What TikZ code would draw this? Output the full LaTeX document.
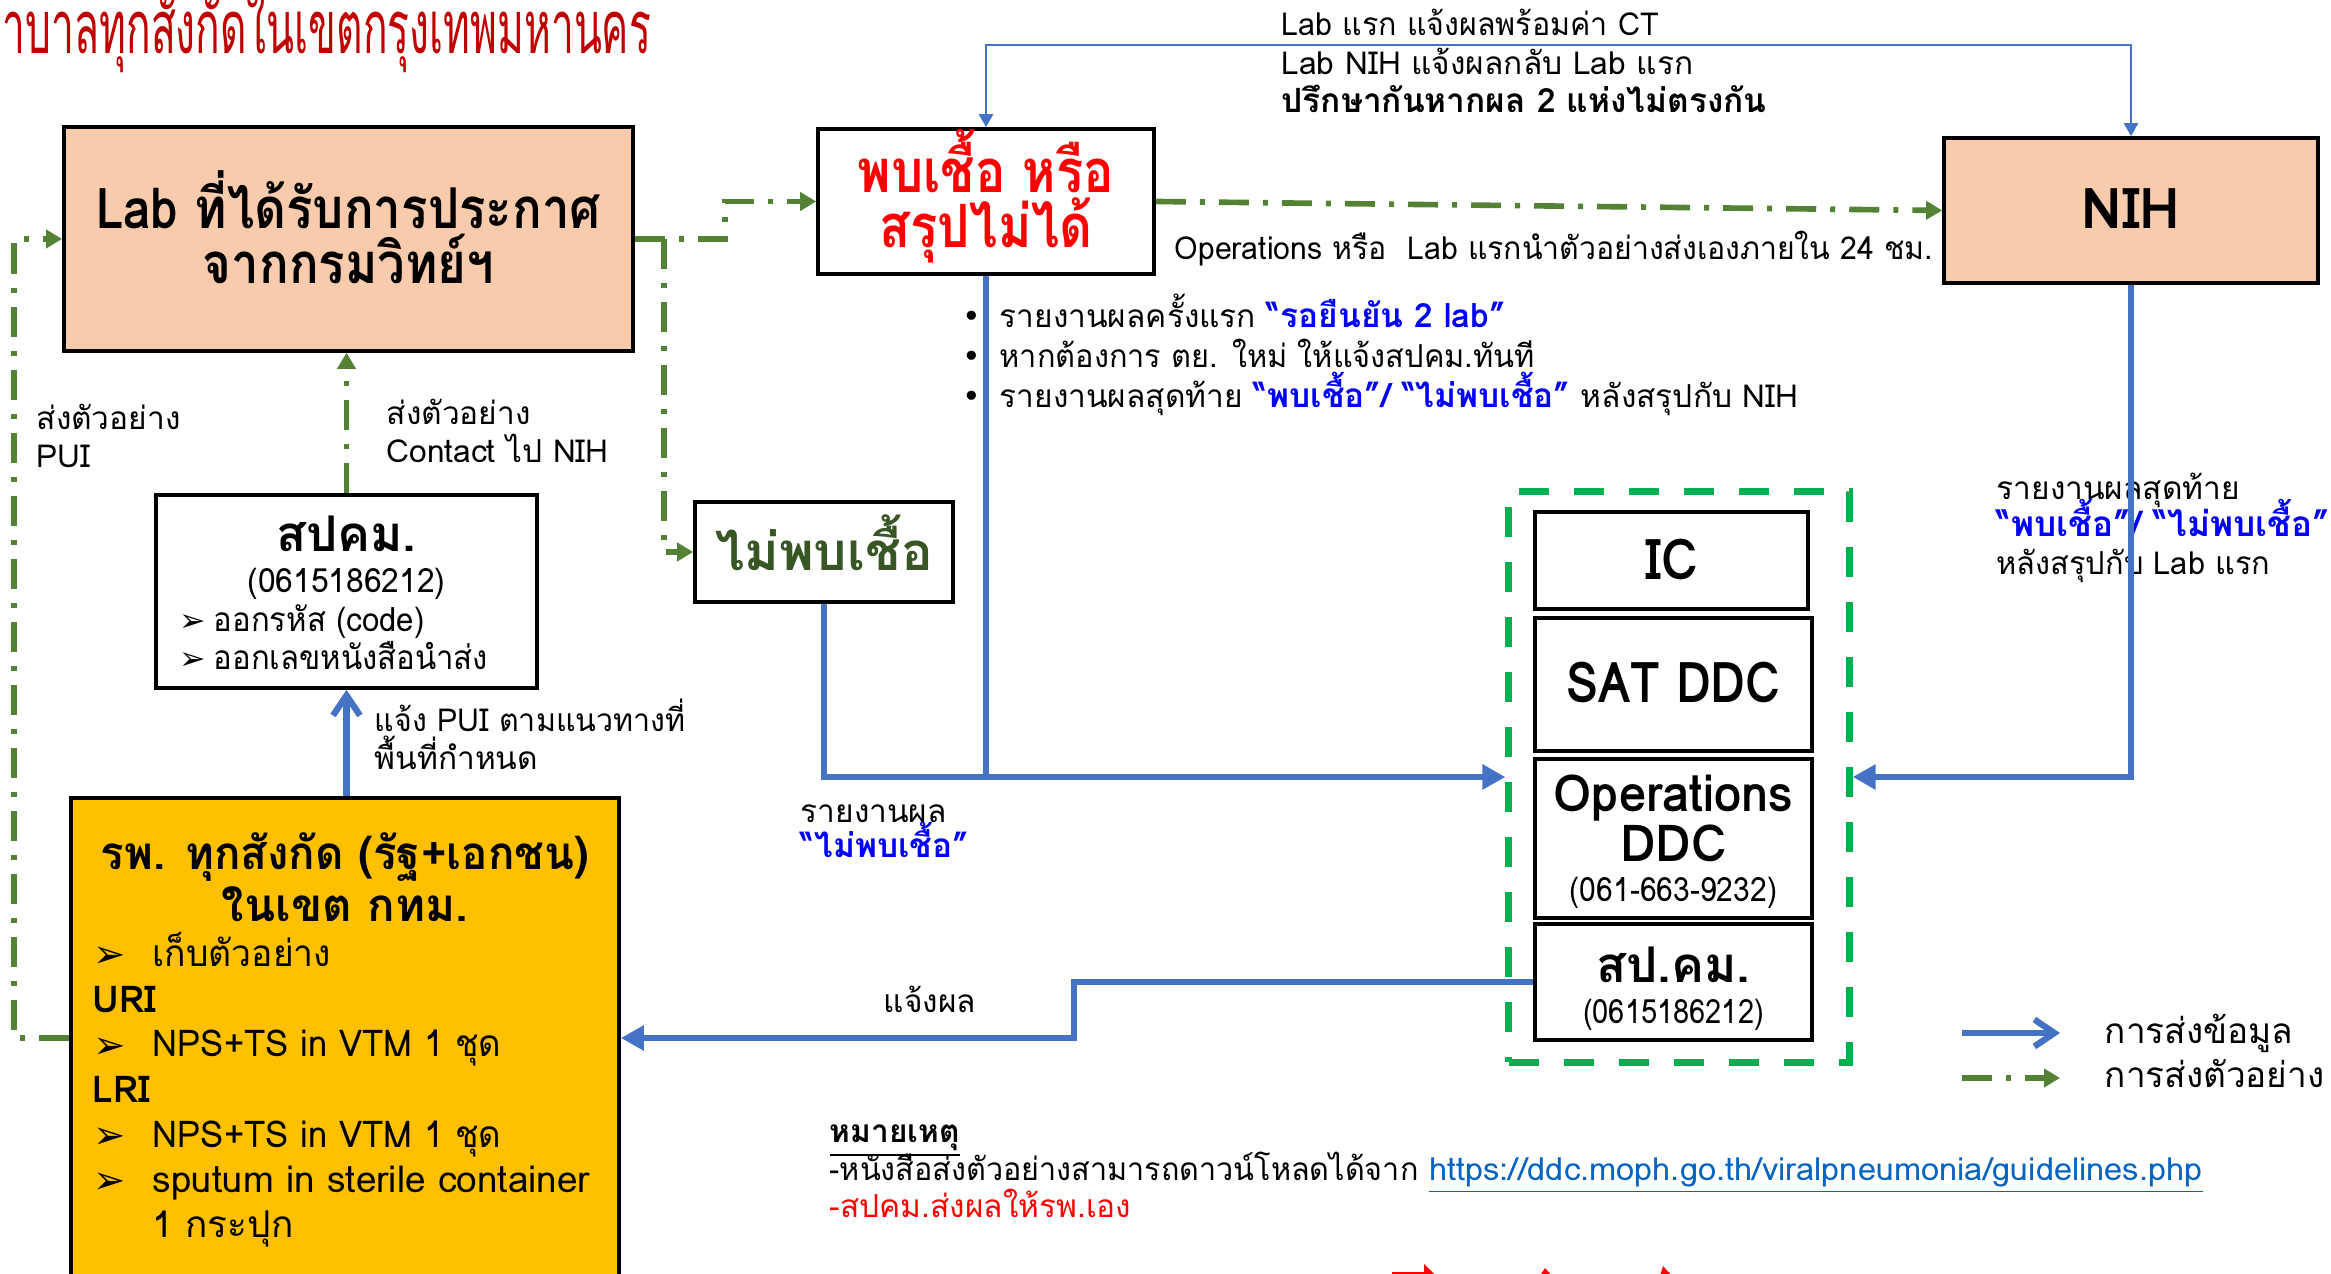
\documentclass[tikz,border=0pt]{standalone}
\usepackage{fontspec}
\usepackage{graphicx}
\setmainfont{Loma}[Script=Thai]
\newfontfamily\dv{DejaVu Sans}
\usetikzlibrary{arrows.meta}
\definecolor{peach}{HTML}{F8CBAD}
\definecolor{gold}{HTML}{FFC000}
\definecolor{ablue}{HTML}{4472C4}
\definecolor{agreen}{HTML}{548235}
\definecolor{ggreen}{HTML}{00B050}
\definecolor{dgreen}{HTML}{375623}
\definecolor{dred}{HTML}{C00000}
\definecolor{pblue}{HTML}{0000FF}
\definecolor{ublue}{HTML}{0563C1}
\newcommand\fsz[2]{\fontsize{#1}{#2}\selectfont}
\newcommand\sx[2]{\scalebox{#1}[1]{#2}}
\newcommand\arrb{{\dv\char"27A2}}
\newcommand\bul{{\dv\char"2022}}
\begin{document}
\begin{tikzpicture}[x=0.01cm,y=-0.01cm,
  box/.style={draw=black,line width=1pt,inner sep=0pt},
  lbl/.style={inner sep=0pt,anchor=base west,font=\fsz{9}{11}},
  clbl/.style={inner sep=0pt,anchor=base},
  bluethin/.style={draw=ablue,line width=0.7pt,{Triangle[length=0.13cm,width=0.14cm]}-{Triangle[length=0.13cm,width=0.14cm]}},
  bluethick/.style={draw=ablue,line width=1.8pt},
  tri/.style={-{Triangle[length=0.23cm,width=0.24cm]}},
  barb/.style={-{Straight Barb[length=0.2cm,width=0.27cm,line width=1.8pt]}},
  spec/.style={draw=agreen,line width=1.6pt,dash pattern=on 0.3cm off 0.14cm on 0.05cm off 0.14cm},
  gtip/.style={-{Triangle[length=0.16cm,width=0.18cm]}},
]
\useasboundingbox (0,0) rectangle (2331,1274);
\clip (0,0) rectangle (2331,1274);

% title
\node[anchor=base west,inner sep=0pt,text=dred,font=\fsz{20}{24}] (title) at (2,54) {\scalebox{0.58}[1.05]{าบาลทุกสังกัดในเขตกรุงเทพมหานคร}};

% boxes
\node[box,fill=peach,minimum width=5.69cm,minimum height=2.24cm] (lab) at (348.5,239) {};
\node[box,minimum width=3.36cm,minimum height=1.45cm] (pb) at (986,201.5) {};
\node[box,fill=peach,minimum width=3.74cm,minimum height=1.45cm] (nih) at (2131,210.5) {};
\node[box,minimum width=3.81cm,minimum height=1.93cm] (spk) at (346.5,591.5) {};
\node[box,minimum width=2.58cm,minimum height=1.00cm] (nm) at (824,552) {};
\node[box,fill=gold,minimum width=5.48cm,minimum height=4.80cm] (hosp) at (345,1038) {};
\node[draw=ggreen,line width=2pt,dash pattern=on 0.3cm off 0.25cm,inner sep=0pt,minimum width=3.40cm,minimum height=5.70cm] (grp) at (1679,777) {};
\node[box,minimum width=2.73cm,minimum height=0.97cm] (ic) at (1671.5,560.5) {};
\node[box,minimum width=2.77cm,minimum height=1.33cm] (sat) at (1673.5,684.5) {};
\node[box,minimum width=2.77cm,minimum height=1.59cm] (ops) at (1673.5,838.5) {};
\node[box,minimum width=2.77cm,minimum height=1.16cm] (spk2) at (1673.5,982) {};

% box texts
\node[clbl,font=\bfseries\fsz{16}{18}] (labt1) at (348.5,229) {\sx{0.875}{Lab ที่ได้รับการประกาศ}};
\node[clbl,font=\bfseries\fsz{16}{18}] (labt2) at (348.5,284) {\sx{0.875}{จากกรมวิทย์ฯ}};
\node[clbl,font=\bfseries\fsz{17}{18},text=red] (pbt1) at (986,193) {\sx{0.85}{พบเชื้อ หรือ}};
\node[clbl,font=\bfseries\fsz{17}{18},text=red] (pbt2) at (986,248) {\sx{0.85}{สรุปไม่ได้}};
\node[clbl,font=\bfseries\fsz{16}{18}] (niht) at (2131,229) {NIH};
\node[clbl,font=\bfseries\fsz{15}{18},text=dgreen] (nmt) at (824,571) {ไม่พบเชื้อ};
\node[clbl,font=\bfseries\fsz{16}{18}] (ict) at (1671.5,580) {\sx{0.9}{IC}};
\node[clbl,font=\bfseries\fsz{16}{18}] (satt) at (1673.5,703) {\sx{0.855}{SAT DDC}};
\node[clbl,font=\bfseries\fsz{14.5}{18}] (opst1) at (1673.5,812) {\sx{0.96}{Operations}};
\node[clbl,font=\bfseries\fsz{14.5}{18}] (opst2) at (1673.5,862) {\sx{0.96}{DDC}};
\node[clbl,font=\fsz{9.5}{12}] (opst3) at (1673.5,902) {\sx{0.9}{(061-663-9232)}};
\node[clbl,font=\bfseries\fsz{14}{18}] (spk2t1) at (1673.5,982) {สป.คม.};
\node[clbl,font=\fsz{9.5}{12}] (spk2t2) at (1673.5,1023) {\sx{0.87}{(0615186212)}};

\node[clbl,font=\bfseries\fsz{14}{18}] (spkt1) at (346.5,552) {สปคม.};
\node[clbl,font=\fsz{9.5}{12}] (spkt2) at (346.5,593) {\sx{0.95}{(0615186212)}};
\node[lbl,font=\fsz{9}{12}] (spkb1) at (179,632) {\arrb};
\node[lbl,font=\fsz{9.5}{12}] (spkt3) at (213,632) {\sx{0.93}{ออกรหัส (code)}};
\node[lbl,font=\fsz{9}{12}] (spkb2) at (179,670) {\arrb};
\node[lbl,font=\fsz{9.5}{12}] (spkt4) at (213,670) {\sx{0.93}{ออกเลขหนังสือนำส่ง}};

\node[clbl,font=\bfseries\fsz{13}{16}] (hospt1) at (345,870) {\sx{0.96}{รพ. ทุกสังกัด (รัฐ+เอกชน)}};
\node[clbl,font=\bfseries\fsz{13}{16}] (hospt2) at (345,922) {ในเขต กทม.};
\node[lbl,font=\fsz{11}{12}] (hb1) at (93,968) {\arrb};
\node[lbl,font=\fsz{10.5}{12}] (hi1) at (152,967) {\sx{0.96}{เก็บตัวอย่าง}};
\node[lbl,font=\bfseries\fsz{10.5}{12}] (hi2) at (92,1012) {URI};
\node[lbl,font=\fsz{11}{12}] (hb2) at (93,1058) {\arrb};
\node[lbl,font=\fsz{10.5}{12}] (hi3) at (152,1057) {\sx{0.94}{NPS+TS in VTM 1 ชุด}};
\node[lbl,font=\bfseries\fsz{10.5}{12}] (hi4) at (92,1102) {LRI};
\node[lbl,font=\fsz{11}{12}] (hb3) at (93,1148) {\arrb};
\node[lbl,font=\fsz{10.5}{12}] (hi5) at (152,1147) {\sx{0.94}{NPS+TS in VTM 1 ชุด}};
\node[lbl,font=\fsz{11}{12}] (hb4) at (93,1193) {\arrb};
\node[lbl,font=\fsz{10.5}{12}] (hi6) at (152,1192) {sputum in sterile container};
\node[lbl,font=\fsz{10.5}{12}] (hi7) at (152,1237) {1 กระปุก};

% connectors: blue thin top
\draw[bluethin] (pb.north) -- ++(0,-82) -| (nih.north);
\node[lbl] (t1) at (1281,36) {\sx{0.96}{Lab แรก แจ้งผลพร้อมค่า CT}};
\node[lbl] (t2) at (1281,75) {Lab NIH แจ้งผลกลับ Lab แรก};
\node[lbl,font=\bfseries\fsz{9.5}{11}] (t3) at (1281,113) {ปรึกษากันหากผล 2 แห่งไม่ตรงกัน};

% green specimen arrows
\draw[spec,gtip] (lab.east) -- (725,239) |- (pb.west);
\draw[spec,gtip] (664,239) |- (nm.west);
\draw[spec,gtip] (pb.east) -- (nih.west);
\node[lbl] (opl) at (1174,260) {\sx{0.955}{Operations หรือ~ Lab แรกนำตัวอย่างส่งเองภายใน 24 ชม.}};
\draw[spec,gtip] (hosp.west) -- ++(-55,0) |- (lab.west);
\node[lbl] (pui1) at (36,430) {ส่งตัวอย่าง};
\node[lbl] (pui2) at (36,468) {PUI};
\draw[spec,gtip] (spk.north) -- (spk.north |- lab.south);
\node[lbl] (ct1) at (386,425) {ส่งตัวอย่าง};
\node[lbl] (ct2) at (386,463) {Contact ไป NIH};

% blue thick data arrows
\draw[bluethick,barb] (spk.south |- hosp.north) -- (spk.south);
\node[lbl] (pu1) at (374,732) {\sx{0.96}{แจ้ง PUI ตามแนวทางที่}};
\node[lbl] (pu2) at (374,770) {พื้นที่กำหนด};

\draw[bluethick] (pb.south) -- (pb.south |- grp.west);
\draw[bluethick,tri] (nm.south) |- (grp.west);
\node[lbl] (rp1) at (800,823) {รายงานผล};
\node[lbl,font=\bfseries\fsz{9.5}{11},text=pblue] (rp2) at (800,858) {“ไม่พบเชื้อ”};

\node[lbl] (bl1b) at (962,328) {\bul};
\node[lbl] (bl1) at (999,328) {รายงานผลครั้งแรก {\bfseries\fsz{9.5}{11}\color{pblue}“รอยืนยัน 2 lab”}};
\node[lbl] (bl2b) at (962,368) {\bul};
\node[lbl] (bl2) at (999,368) {\sx{0.97}{หากต้องการ ตย. ใหม่ ให้แจ้งสปคม.ทันที}};
\node[lbl] (bl3b) at (962,408) {\bul};
\node[lbl] (bl3) at (999,408) {รายงานผลสุดท้าย {\bfseries\fsz{9.5}{11}\color{pblue}“พบเชื้อ”/ “ไม่พบเชื้อ”} หลังสรุปกับ NIH};

\node[lbl] (rf1) at (1996,500) {รายงานผลสุดท้าย};
\node[lbl,font=\bfseries\fsz{10}{11},text=pblue] (rf2) at (1996,537) {“พบเชื้อ”/ “ไม่พบเชื้อ”};
\node[lbl] (rf3) at (1996,575) {\sx{0.97}{หลังสรุปกับ Lab แรก}};
\draw[bluethick,tri] (nih.south) |- (grp.east);

\draw[bluethick,tri] (spk2.west) -- ++(-459,0) |- (hosp.east);
\node[lbl] (jp) at (883,1012) {แจ้งผล};

% legend
\coordinate (lga) at (1962,1033);
\coordinate (lgb) at (2060,1033);
\coordinate (lgc) at (1962,1078);
\coordinate (lgd) at (2060,1078);
\draw[bluethick,barb] (lga) -- (lgb);
\draw[spec,gtip] (lgc) -- (lgd);
\node[lbl,font=\fsz{10}{12}] (lg1) at (2104,1043) {การส่งข้อมูล};
\node[lbl,font=\fsz{10}{12}] (lg2) at (2104,1087) {การส่งตัวอย่าง};

% notes
\node[lbl,font=\bfseries\fsz{9}{11}] (n0) at (829,1142) {\underline{หมายเหตุ}};
\node[lbl] (n1) at (829,1180) {\sx{0.965}{-หนังสือส่งตัวอย่างสามารถดาวน์โหลดได้จาก} {\color{ublue}\sx{1.03}{\underline{https://ddc.moph.go.th/viralpneumonia/guidelines.php}}}};
\node[lbl,text=red] (n2) at (829,1217) {-สปคม.ส่งผลให้รพ.เอง};

% clipped red arrows at bottom edge
\fill[red] (1392,1272) -- (1424,1272) -- (1424,1264) -- (1440,1280) -- (1392,1280) -- cycle;
\fill[red] (1545,1268) -- (1552,1276) -- (1540,1276) -- cycle;
\fill[red] (1663,1266) -- (1672,1276) -- (1660,1276) -- cycle;
\end{tikzpicture}
\end{document}
